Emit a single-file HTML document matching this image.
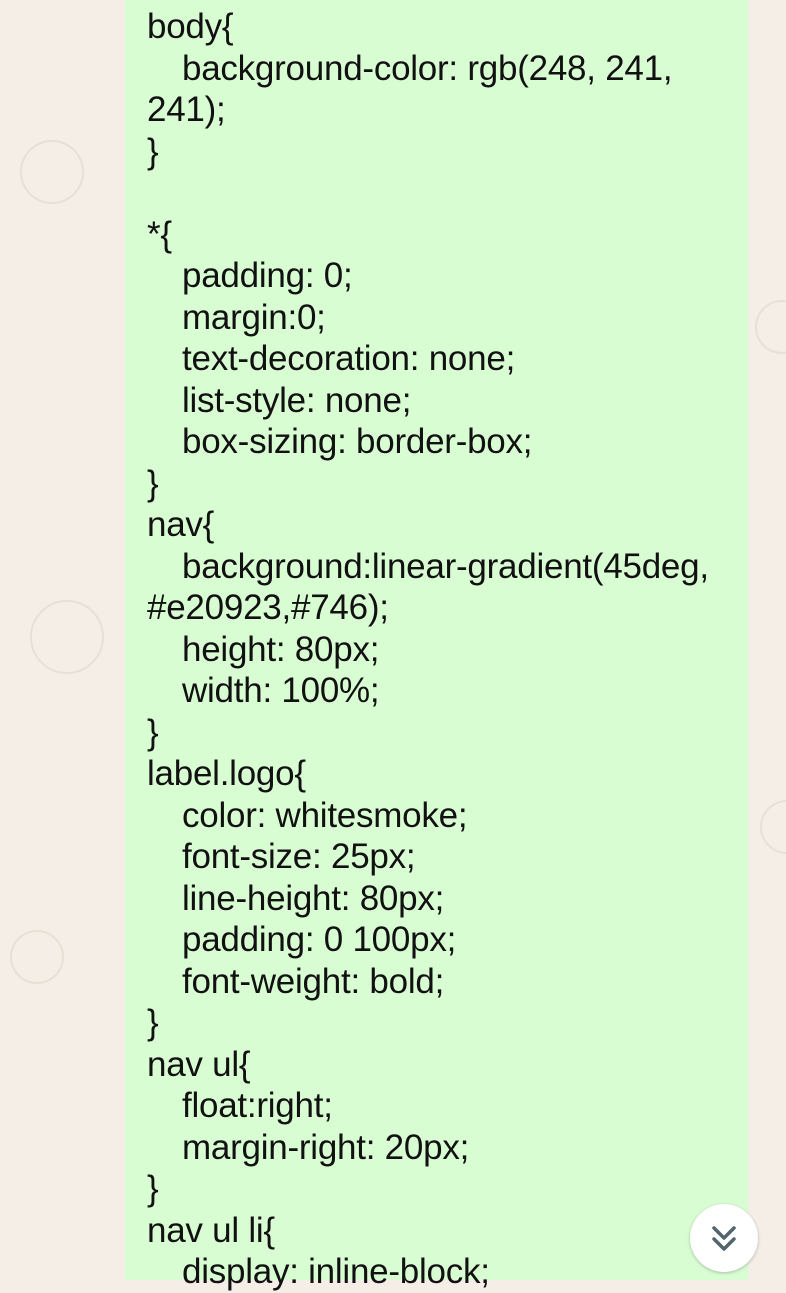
<!DOCTYPE html>
<html><head><meta charset="utf-8"><style>
html,body{margin:0;padding:0;}
body{width:786px;height:1280px;overflow:hidden;background:#f4eee7;position:relative;font-family:"Liberation Sans",Arial,sans-serif;}
.bubble{position:absolute;left:125px;top:0;width:623px;height:1280px;background:#d9fdd3;}
.code{position:absolute;left:147px;top:6px;font-size:35px;line-height:41.5px;color:#111;white-space:pre;letter-spacing:-0.25px;}
.i{padding-left:35px;}
.btn{position:absolute;left:690px;top:1204px;width:68px;height:68px;border-radius:50%;background:#fff;box-shadow:0 1px 3px rgba(0,0,0,.25);}
.doodle{position:absolute;border:2px solid #e9e0d5;border-radius:50%;}
</style></head><body>
<div class="doodle" style="left:20px;top:140px;width:60px;height:60px"></div>
<div class="doodle" style="left:30px;top:600px;width:70px;height:70px"></div>
<div class="doodle" style="left:10px;top:930px;width:50px;height:50px"></div>
<div class="doodle" style="left:755px;top:300px;width:50px;height:50px"></div>
<div class="doodle" style="left:760px;top:800px;width:50px;height:50px"></div>
<div class="bubble"></div>
<div class="code"><div>body{</div><div class="i">background-color: rgb(248, 241,</div><div>241);</div><div>}</div><div> </div><div>*{</div><div class="i">padding: 0;</div><div class="i">margin:0;</div><div class="i">text-decoration: none;</div><div class="i">list-style: none;</div><div class="i">box-sizing: border-box;</div><div>}</div><div>nav{</div><div class="i">background:linear-gradient(45deg,</div><div>#e20923,#746);</div><div class="i">height: 80px;</div><div class="i">width: 100%;</div><div>}</div><div>label.logo{</div><div class="i">color: whitesmoke;</div><div class="i">font-size: 25px;</div><div class="i">line-height: 80px;</div><div class="i">padding: 0 100px;</div><div class="i">font-weight: bold;</div><div>}</div><div>nav ul{</div><div class="i">float:right;</div><div class="i">margin-right: 20px;</div><div>}</div><div>nav ul li{</div><div class="i">display: inline-block;</div></div>
<div class="btn"><svg width="68" height="68" viewBox="0 0 68 68"><path d="M24 24 L34 34 L44 24 M24 35 L34 45 L44 35" fill="none" stroke="#54656f" stroke-width="3.5" stroke-linecap="round" stroke-linejoin="round"/></svg></div>
</body></html>
